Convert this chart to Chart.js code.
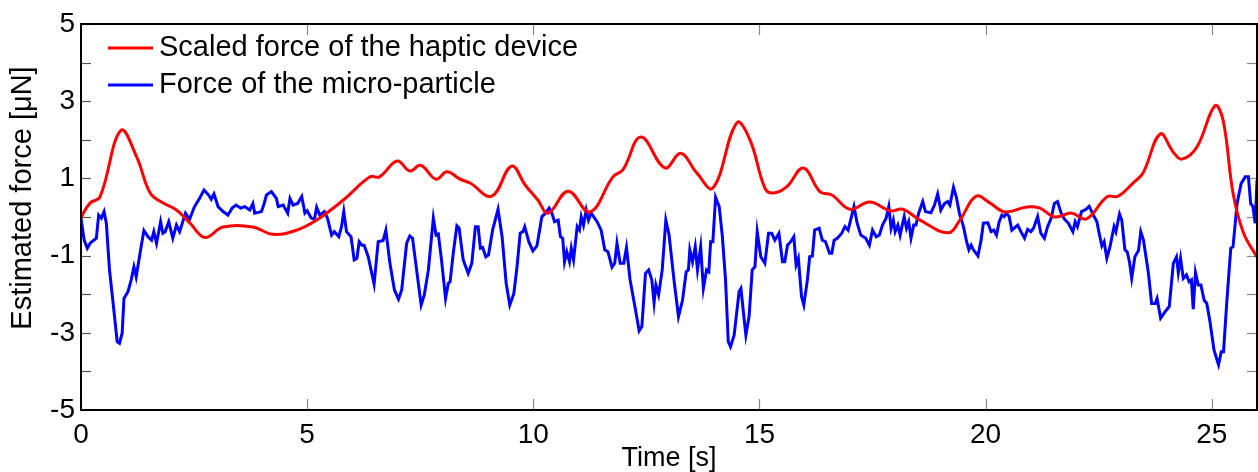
<!DOCTYPE html>
<html>
<head>
<meta charset="utf-8">
<script src="https://cdn.jsdelivr.net/npm/chart.js@4/dist/chart.umd.min.js"></script>
<style>
  html, body { margin: 0; padding: 0; background: #fff; }
  #wrap { width: 1258px; height: 472px; position: relative; }
</style>
</head>
<body>
<div id="wrap"><canvas id="myChart"></canvas></div>
<script>
// Data (time in s, force in uN)
const redTime = [0, 0.2, 0.42, 0.88, 1.23, 1.53, 1.82, 2.11, 2.41, 2.74, 3.14, 3.8, 4.25, 4.77, 5.21, 5.8,
  6.39, 6.6, 6.99, 7.27, 7.51, 7.85, 8.09, 8.38, 8.6, 9.08, 9.52, 9.82, 10.1, 10.33, 10.77, 11.25, 11.76,
  11.98, 12.38, 12.91, 13.26, 13.61, 13.97, 14.5, 14.79, 15.12, 15.3, 15.6, 15.97, 16.34, 16.6, 17.0, 17.44,
  17.89, 18.17, 18.55, 19.17, 19.43, 19.79, 20.1, 20.43, 20.91, 21.2, 21.53, 21.9, 22.23, 22.68, 22.93,
  23.26, 23.48, 23.86, 24.15, 24.34, 24.67, 25.07, 25.25, 25.47, 25.7, 26.0];
const redForce = [0, 0.36, 0.52, 2.24, 1.56, 0.62, 0.36, 0.18, -0.16, -0.53, -0.26, -0.26, -0.45, -0.34, -0.08, 0.44,
  1.04, 1.04, 1.45, 1.19, 1.34, 0.98, 1.17, 0.98, 0.88, 0.54, 1.32, 0.83, 0.44, 0.1, 0.67, 0.13, 1.04,
  1.22, 2.07, 1.27, 1.65, 1.15, 0.75, 2.44, 2.0, 0.75, 0.62, 0.78, 1.27, 0.65, 0.57, 0.2, 0.39,
  0.16, 0.2, -0.08, -0.41, -0.08, 0.54, 0.36, 0.13, 0.26, 0.23, 0, 0.1, -0.05, 0.52, 0.54,
  0.88, 1.14, 2.15, 1.68, 1.5, 1.81, 2.88, 2.51, 0.62, -0.41, -1.04];

const blueTime = [0, 0.07, 0.14, 0.21, 0.34, 0.39, 0.45, 0.51, 0.56, 0.63, 0.71, 0.8, 0.85, 0.91, 0.95, 1.04,
  1.11, 1.17, 1.22, 1.3, 1.39, 1.48, 1.56, 1.61, 1.67, 1.76, 1.81, 1.86, 1.94, 2.03, 2.11, 2.18, 2.31, 2.4,
  2.51, 2.62, 2.72, 2.82, 2.88, 2.94, 3.03, 3.14, 3.25, 3.34, 3.43, 3.53, 3.62, 3.73, 3.8, 3.84, 3.99, 4.05,
  4.1, 4.21, 4.32, 4.36, 4.47, 4.57, 4.62, 4.69, 4.79, 4.88, 4.95, 5.0, 5.09, 5.16, 5.21, 5.28, 5.38, 5.45,
  5.54, 5.6, 5.7, 5.76, 5.81, 5.87, 5.97, 6.04, 6.1, 6.15, 6.21, 6.26, 6.35, 6.48, 6.57, 6.68, 6.74, 6.83,
  6.93, 7.02, 7.09, 7.2, 7.27, 7.33, 7.42, 7.52, 7.59, 7.68, 7.79, 7.85, 7.9, 7.97, 8.06, 8.12, 8.16, 8.23,
  8.31, 8.36, 8.45, 8.56, 8.64, 8.72, 8.78, 8.83, 8.88, 8.95, 9.01, 9.1, 9.22, 9.31, 9.4, 9.48, 9.57, 9.64,
  9.71, 9.77, 9.81, 9.9, 9.99, 10.08, 10.19, 10.27, 10.35, 10.41, 10.47, 10.55, 10.6, 10.65, 10.69, 10.74,
  10.8, 10.84, 10.89, 10.97, 11.02, 11.06, 11.11, 11.17, 11.22, 11.28, 11.41, 11.5, 11.58, 11.65, 11.74,
  11.8, 11.85, 11.92, 12.0, 12.06, 12.14, 12.26, 12.34, 12.4, 12.48, 12.55, 12.62, 12.67, 12.71, 12.77,
  12.85, 12.93, 13.0, 13.11, 13.21, 13.3, 13.38, 13.43, 13.46, 13.52, 13.58, 13.63, 13.7, 13.76, 13.83,
  13.88, 13.92, 13.97, 14.03, 14.11, 14.18, 14.25, 14.31, 14.36, 14.44, 14.55, 14.59, 14.64, 14.7, 14.77,
  14.84, 14.9, 14.95, 15.03, 15.12, 15.2, 15.27, 15.34, 15.43, 15.51, 15.56, 15.62, 15.69, 15.76, 15.81,
  15.86, 15.93, 15.98, 16.06, 16.11, 16.17, 16.22, 16.32, 16.39, 16.46, 16.55, 16.6, 16.65, 16.72, 16.82,
  16.89, 16.96, 17.09, 17.16, 17.24, 17.35, 17.43, 17.5, 17.58, 17.65, 17.72, 17.8, 17.86, 17.91, 17.96,
  18.0, 18.06, 18.11, 18.15, 18.2, 18.25, 18.3, 18.35, 18.41, 18.46, 18.52, 18.61, 18.67, 18.79, 18.87,
  18.94, 19.01, 19.09, 19.16, 19.21, 19.29, 19.35, 19.42, 19.51, 19.58, 19.63, 19.68, 19.73, 19.83, 19.9,
  19.95, 20.05, 20.12, 20.18, 20.24, 20.3, 20.36, 20.41, 20.46, 20.52, 20.58, 20.71, 20.78, 20.86, 20.93,
  21.0, 21.06, 21.15, 21.22, 21.3, 21.37, 21.45, 21.52, 21.59, 21.67, 21.74, 21.83, 21.93, 21.98, 22.03,
  22.12, 22.22, 22.29, 22.38, 22.46, 22.51, 22.57, 22.62, 22.68, 22.75, 22.84, 22.88, 22.96, 23.01, 23.08,
  23.13, 23.18, 23.23, 23.3, 23.38, 23.43, 23.49, 23.6, 23.67, 23.75, 23.79, 23.87, 23.97, 24.06, 24.15,
  24.22, 24.26, 24.31, 24.37, 24.44, 24.5, 24.55, 24.59, 24.64, 24.7, 24.76, 24.83, 24.89, 24.96, 25.05,
  25.15, 25.21, 25.26, 25.33, 25.42, 25.47, 25.56, 25.65, 25.74, 25.81, 25.86, 25.91, 25.96, 26.0];
const blueForce = [-0.03, -0.6, -0.81, -0.67, -0.55, 0.05, -0.03, 0.14, -0.16, -1.37, -2.23, -3.23, -3.27, -3.01, -2.11, -1.93,
  -1.63, -1.29, -1.55, -0.98, -0.35, -0.51, -0.6, -0.38, -0.68, -0.12, -0.42, -0.38, -0.12, -0.55, -0.21, -0.38, 0.1, -0.06,
  0.27, 0.48, 0.7, 0.57, 0.46, 0.6, 0.27, 0.14, 0.05, 0.23, 0.31, 0.23, 0.27, 0.18, 0.35, 0.1, 0.14, 0.35,
  0.57, 0.66, 0.48, 0.27, 0.31, 0.1, 0.48, 0.31, 0.35, 0.53, 0.1, 0.16, -0.03, -0.06, 0.25, 0.05, 0.14, -0.03,
  -0.47, -0.38, -0.51, -0.25, 0.14, -0.38, -0.51, -1.11, -1.07, -0.64, -0.73, -0.73, -1.03, -1.74, -0.64, -0.61, -0.34, -1.2,
  -1.89, -2.13, -1.89, -0.68, -0.49, -0.55, -1.37, -2.28, -2.02, -1.37, -0.03, -0.47, -0.44, -1.11, -2.11, -1.72, -1.68, -0.94,
  -0.23, -0.29, -1.11, -1.46, -1.2, -0.25, -0.25, -0.81, -0.79, -1.03, -0.98, -0.34, 0.2, -0.51, -1.72, -2.28, -1.98, -1.29,
  -0.42, -0.38, -0.25, -0.64, -0.88, -0.75, 0.01, 0.1, 0.23, 0.1, -0.12, -0.08, -0.51, -0.55, -1.16, -0.9,
  -1.16, -0.81, -1.11, -0.25, -0.34, 0.01, -0.21, 0.18, -0.08, 0.1, -0.12, -0.34, -0.85, -0.9, -1.3,
  -1.2, -0.68, -1.2, -1.2, -0.79, -1.63, -2.41, -2.95, -2.84, -1.46, -1.37, -1.63, -2.22, -1.76, -2.02,
  -1.37, -0.08, -0.45, -1.63, -2.58, -2.15, -1.42, -1.37, -0.85, -1.16, -0.77, -1.37, -0.77, -1.85, -1.37,
  -1.42, -0.64, -0.64, 0.51, 0.27, -0.51, -1.63, -3.23, -3.36, -3.06, -1.93, -1.85, -2.41, -3.06, -2.58,
  -1.37, -1.29, -0.38, -1.03, -1.2, -0.42, -0.42, -0.6, -0.42, -1.16, -1.16, -0.73, -0.64, -0.51, -1.24,
  -1.07, -2.06, -2.28, -1.63, -1.03, -1.01, -0.34, -0.29, -0.6, -0.64, -0.94, -0.94, -0.6, -0.55, -0.42,
  -0.25, -0.34, 0.27, -0.16, -0.47, -0.55, -0.73, -0.34, -0.51, -0.47, -0.21, -0.03, 0.27, -0.29, -0.08,
  -0.38, -0.21, -0.47, -0.25, 0.01, -0.29, -0.12, -0.55, -0.21, -0.21, 0.1, 0.4, 0.14, 0.11, 0.31,
  0.6, 0.18, 0.35, 0.4, 0.31, 0.77, 0.53, 0.1, -0.25, -0.64, -0.85, -0.73, -0.85, -1.01, -0.6,
  -0.16, -0.15, -0.38, -0.34, -0.47, -0.12, 0.05, 0.01, 0.1, 0.01, -0.34, -0.21, -0.38, -0.55, -0.32,
  -0.38, -0.29, 0.01, -0.42, -0.55, -0.25, -0.03, 0.35, 0.4, 0.1, -0.05, -0.16, -0.38, -0.12, -0.25,
  0.14, 0.2, 0.28, 0.05, -0.12, -0.42, -0.75, -0.64, -1.07, -0.77, -0.25, -0.38, 0.08, -0.08, -0.85,
  -0.9, -1.16, -1.59, -1.03, -0.87, -0.38, -0.6, -1.46, -2.24, -2.24, -2.11, -2.62, -2.45, -2.32, -1.2,
  -1.03, -1.44, -1.07, -1.59, -1.5, -1.68, -1.63, -2.39, -1.44, -1.76, -1.76, -2.15, -2.24, -2.71, -3.45,
  -3.83, -3.49, -3.49, -2.24, -0.81, -0.77, 0.35, 0.87, 1.04, 1.04, 0.35, 0.27, -0.16, 0.96];

const xTickValues = [0, 5, 10, 15, 20, 25];
const yTickValues = [-5, -4, -3, -2, -1, 0, 1, 2, 3, 4, 5];
const yLabelValues = [-5, -3, -1, 1, 3, 5];

const FONT = 'Arial, "Liberation Sans", sans-serif';

function toPoints(xs, ys) {
  return xs.map((x, i) => ({ x: x, y: ys[i] }));
}

// frame, inward ticks, y title and legend inside the plot
const framePlugin = {
  id: 'frame',
  beforeDatasetsDraw(chart) {
    const { ctx, chartArea: a, scales } = chart;
    ctx.save();
    ctx.lineWidth = 1.2;
    yTickValues.forEach(v => {
      const y = Math.round(scales.y.getPixelForValue(v)) + 0.5;
      ctx.strokeStyle = '#555';
      ctx.beginPath(); ctx.moveTo(a.left, y); ctx.lineTo(a.left + 10, y); ctx.stroke();
      ctx.strokeStyle = '#888';
      ctx.beginPath(); ctx.moveTo(a.right, y); ctx.lineTo(a.right - 10, y); ctx.stroke();
    });
    ctx.strokeStyle = '#888';
    xTickValues.forEach(v => {
      const x = Math.round(scales.x.getPixelForValue(v)) + 0.5;
      ctx.beginPath(); ctx.moveTo(x, a.bottom); ctx.lineTo(x, a.bottom - 11); ctx.stroke();
      ctx.beginPath(); ctx.moveTo(x, a.top); ctx.lineTo(x, a.top + 11); ctx.stroke();
    });
    ctx.restore();
  },
  afterDraw(chart) {
    const { ctx, chartArea: a } = chart;
    ctx.save();
    ctx.strokeStyle = '#000';
    ctx.lineWidth = 2;
    ctx.strokeRect(a.left, a.top, a.right - a.left, a.bottom - a.top);

    // y axis title
    ctx.fillStyle = '#000';
    ctx.font = '29px ' + FONT;
    ctx.textAlign = 'center';
    ctx.textBaseline = 'middle';
    ctx.translate(23, 198);
    ctx.rotate(-Math.PI / 2);
    ctx.fillText('Estimated force [\u03bcN]', 0, 0);
    ctx.restore();

    // legend
    ctx.save();
    ctx.font = '29px ' + FONT;
    ctx.textAlign = 'left';
    ctx.textBaseline = 'middle';
    chart.data.datasets.forEach((ds, i) => {
      const y = 48 + i * 37;
      ctx.strokeStyle = ds.borderColor;
      ctx.lineWidth = 3;
      ctx.beginPath(); ctx.moveTo(108, y); ctx.lineTo(153, y); ctx.stroke();
      ctx.fillStyle = '#000';
      ctx.fillText(ds.label, 159, y);
    });
    ctx.restore();
  }
};

const ctx = document.getElementById('myChart');
const myChart = new Chart(ctx, {
  type: 'line',
  data: {
    datasets: [
      {
        label: 'Scaled force of the haptic device',
        data: toPoints(redTime, redForce),
        borderColor: '#ff0000',
        borderWidth: 3,
        pointRadius: 0,
        tension: 0.4,
        fill: false
      },
      {
        label: 'Force of the micro-particle',
        data: toPoints(blueTime, blueForce),
        borderColor: '#0000ff',
        borderWidth: 3,
        pointRadius: 0,
        tension: 0,
        fill: false
      }
    ]
  },
  options: {
    responsive: true,
    maintainAspectRatio: false,
    animation: false,
    layout: { padding: { top: 24, right: 1, left: 0, bottom: 0 } },
    plugins: {
      legend: { display: false },
      tooltip: { enabled: false }
    },
    scales: {
      x: {
        type: 'linear',
        min: 0,
        max: 26,
        grid: { display: false, drawTicks: false },
        border: { display: false },
        afterBuildTicks: s => { s.ticks = xTickValues.map(v => ({ value: v })); },
        afterFit: s => { s.height = 62; },
        ticks: {
          autoSkip: false,
          maxRotation: 0,
          padding: 8,
          color: '#000',
          font: { family: FONT, size: 28 }
        },
        title: {
          display: true,
          text: 'Time [s]',
          color: '#000',
          padding: 0,
          font: { family: FONT, size: 27, lineHeight: 1 }
        }
      },
      y: {
        type: 'linear',
        min: -5,
        max: 5,
        grid: { display: false, drawTicks: false },
        border: { display: false },
        afterBuildTicks: s => { s.ticks = yTickValues.map(v => ({ value: v })); },
        afterFit: s => { s.width = 81; },
        ticks: {
          autoSkip: false,
          padding: 6,
          color: '#000',
          font: { family: FONT, size: 28 },
          callback: v => (yLabelValues.includes(v) ? String(v) : '')
        }
      }
    }
  },
  plugins: [framePlugin]
});
</script>
</body>
</html>
